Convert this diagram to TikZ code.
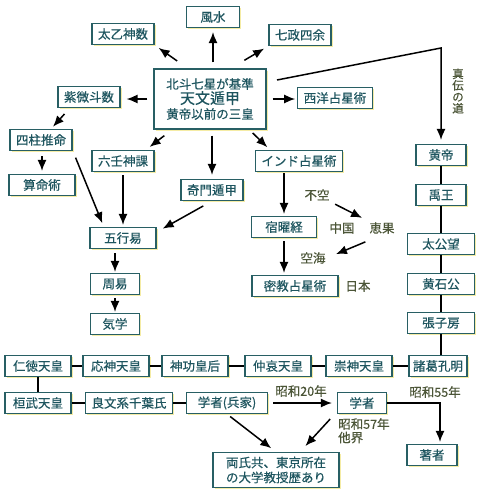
\documentclass[tikz,border=0pt]{standalone}
\usepackage{fontspec}
\setmainfont{Noto Sans CJK JP}[FakeBold=0.5]
\usetikzlibrary{arrows.meta,shadows}
\definecolor{boxline}{RGB}{40,95,100}
\definecolor{boxtext}{RGB}{30,85,95}
\definecolor{labtext}{RGB}{75,85,55}
\definecolor{glow}{RGB}{245,236,165}

\begin{document}
\begin{tikzpicture}[
  x=1pt,y=-1pt,
  box/.style={draw=boxline,fill=white,text=boxtext,line width=1.1pt,minimum height=21pt,inner xsep=6pt,inner ysep=2pt,
    font=\fontsize{12.5}{14}\selectfont,drop shadow={fill=glow,opacity=1,shadow xshift=1.5pt,shadow yshift=-1.5pt}},
  lab/.style={text=labtext,inner sep=1pt,font=\fontsize{12.5}{13.5}\selectfont},
  arr/.style={-{Latex[length=11pt,width=9pt]},line width=1.5pt},
  link/.style={line width=1.4pt}
]
\useasboundingbox (0,0) rectangle (480,490);

% centre and its branches
\node[box,minimum width=112pt,minimum height=60pt,align=center] (cen) at (210,99)
  {北斗七星が基準\\[1pt]{\fontsize{15}{16}\selectfont 天文遁甲}\\[1pt]黄帝以前の三皇};
\node[box,minimum width=53pt] (fusui) at (213,17) {風水};
\node[box] (taiotsu) at (123,34) {太乙神数};
\node[box] (shichisei) at (300,35) {七政四余};
\node[box] (shibi) at (89,97) {紫微斗数};
\node[box] (seiyo) at (335,98) {西洋占星術};
\node[box] (shichu) at (41,140) {四柱推命};
\node[box,minimum width=66pt] (sanmei) at (42,185) {算命術};
\node[box] (rikujin) at (123,161) {六壬神課};
\node[box] (kimon) at (212,190) {奇門遁甲};
\node[box] (india) at (299,161) {インド占星術};
\node[box,minimum width=66pt] (gogyo) at (123,238) {五行易};
\node[box,minimum width=49pt] (shueki) at (115,284) {周易};
\node[box,minimum width=49pt] (kigaku) at (115,324) {気学};
\node[box,minimum width=65pt] (shukuyo) at (284,227) {宿曜経};
\node[box,minimum width=86pt] (mikkyo) at (295,286) {密教占星術};

% transmission labels
\node[lab] (fuku) at (317,195) {不空};
\node[lab] (chugoku) at (342,228) {中国};
\node[lab] (keika) at (382,228) {恵果};
\node[lab] (kukai) at (313,258) {空海};
\node[lab] (nihon) at (358,286) {日本};
\node[lab,align=center,font=\fontsize{11.5}{11.5}\selectfont] (shinden) at (458,91) {真\\伝\\の\\道};

% true line
\foreach \n/\y/\t/\w in {kotei/155/黄帝/50,uo/195/禹王/50,taikobo/244/太公望/67,sekkoko/284/黄石公/67,choshibo/323/張子房/67}{
  \node[box,minimum width=\w pt] (\n) at (441,\y) {\t};
}

% emperors
\foreach \n/\x/\t in {nintoku/38/仁徳天皇,ojin/116/応神天皇,jingu/195/神功皇后,chuai/278/仲哀天皇,sujin/359/崇神天皇}{
  \node[box,minimum width=66pt] (\n) at (\x,366) {\t};
}
\node[box,inner xsep=4pt] (shokatsu) at (438,366) {諸葛孔明};

\node[box,minimum width=66pt] (kanmu) at (38,403) {桓武天皇};
\node[box] (yoshibumi) at (129,403) {良文系千葉氏};
\node[box,minimum width=81pt] (heika) at (227,403) {学者(兵家)};
\node[box,minimum width=49pt] (gakusha) at (362,403) {学者};
\node[box,minimum width=50pt] (chosha) at (432,455) {著者};
\node[box,minimum width=126pt,minimum height=35pt,align=center,font=\fontsize{12.5}{15}\selectfont] (ryoshi) at (276,470)
  {両氏共、東京所在\\の大学教授歴あり};

\node[lab] (s20) at (301,391) {昭和20年};
\node[lab] (s55) at (435,392) {昭和55年};
\node[lab,align=left,anchor=north west] (s57) at (337,417) {昭和57年\\他界};

% arrows from the centre
\draw[arr,shorten <=6pt,shorten >=4pt] (fusui.south |- cen.north) -- (fusui.south);
\draw[arr,shorten <=13pt,shorten >=5pt] (cen.126) -- (taiotsu.south east);
\draw[arr,shorten <=16pt,shorten >=5pt] (cen.56) -- (shichisei.south west);
\draw[arr,shorten <=6pt,shorten >=6pt] (cen.west) -- (shibi.east |- cen.west);
\draw[arr,shorten <=6pt,shorten >=2pt] (cen.east) -- (seiyo.west |- cen.east);
\draw[arr,shorten <=10pt,shorten >=5pt] (cen.219) -- (rikujin.26);
\draw[arr,shorten <=5pt,shorten >=4pt] (cen.322) -- (india.159);
\draw[arr,shorten <=6pt,shorten >=4pt] (kimon.north |- cen.south) -- (kimon.north);

\coordinate (tstart) at (277,80);
\coordinate (tbend) at (441,48);
\draw[arr,shorten >=4pt] (tstart) -- (tbend) -- (kotei);

% left branch
\draw[arr,shorten <=8pt,shorten >=3pt] (shibi.210) -- (shichu.48);
\draw[arr,shorten <=5pt,shorten >=3pt] (sanmei.north |- shichu.south) -- (sanmei.north);
\draw[arr,shorten <=8pt,shorten >=4pt] (shichu.-18) -- (gogyo.150);
\draw[arr,shorten <=3pt,shorten >=2pt] (rikujin.south) -- (gogyo.north);
\draw[arr,shorten <=10pt,shorten >=7pt] (kimon.south) -- (gogyo.10);
\draw[arr,shorten <=4pt,shorten >=1pt] (shueki.north |- gogyo.south) -- (shueki.north);
\draw[arr,shorten <=3pt,shorten >=1pt] (shueki.south) -- (kigaku.north);

% india branch
\draw[arr,shorten <=1pt,shorten >=2pt] (shukuyo.north |- india.south) -- (shukuyo.north);
\draw[arr,shorten <=3pt,shorten >=2pt] (shukuyo.south) -- (shukuyo.south |- mikkyo.north);
\draw[arr,shorten <=5pt,shorten >=7pt] (fuku) -- (keika);
\draw[arr,shorten <=18pt,shorten >=10pt] (keika.south) -- (kukai.east);

% lineages
\draw[link] (kotei) -- (uo) -- (taikobo) -- (sekkoko) -- (choshibo);
\draw[link] (choshibo) -- (choshibo |- shokatsu.north);
\draw[link] (nintoku) -- (ojin) -- (jingu) -- (chuai) -- (sujin) -- (shokatsu);
\draw[link] (nintoku) -- (nintoku |- kanmu.north);
\draw[link] (kanmu) -- (yoshibumi) -- (heika);

\draw[arr,shorten <=5pt,shorten >=5pt] (heika.east) -- (gakusha.west);
\draw[arr,shorten >=2pt] (gakusha.east) -| ([xshift=8pt]chosha.north);
\draw[arr,shorten <=4pt,shorten >=6pt] (heika.south) -- (ryoshi.north);
\draw[arr,shorten <=10pt,shorten >=8pt] (gakusha.199) -- (ryoshi.37);

\end{tikzpicture}
\end{document}
